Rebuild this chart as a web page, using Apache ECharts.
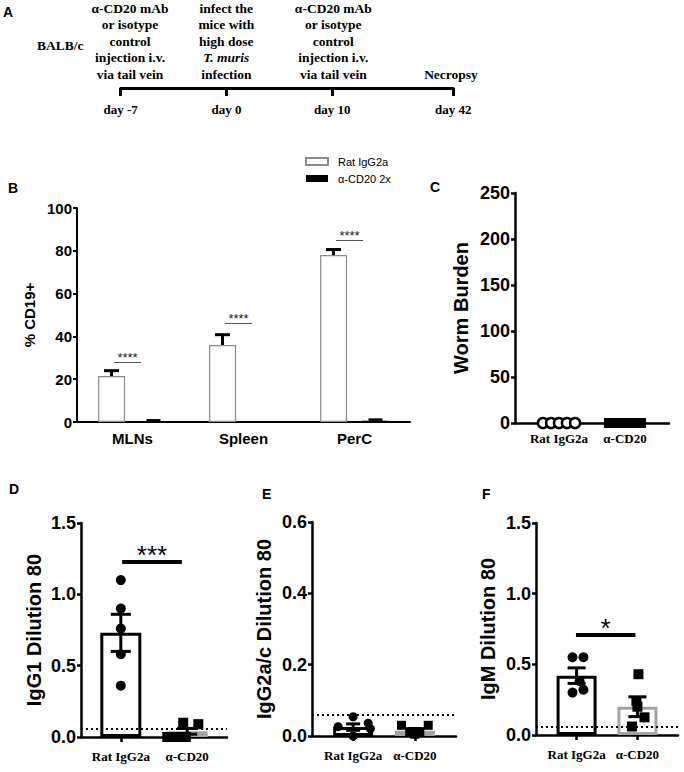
<!DOCTYPE html>
<html lang="en">
<head>
<meta charset="utf-8">
<title>B cell depletion with anti-CD20</title>
<script src="https://cdn.jsdelivr.net/npm/echarts@6/dist/echarts.min.js"></script>
<style>
    html, body { margin: 0; padding: 0; background: #fff; }
    #chart { width: 684px; height: 772px; }
</style>
</head>
<body>
<div id="chart"></div>
<script>
// ---- panel A: timeline ----
var timelineDays = ['day -7', 'day 0', 'day 10', 'day 42'];
var timelineNotes = [
    'α-CD20 mAb\nor isotype\ncontrol\ninjection i.v.\nvia tail vein',
    'infect the\nmice with\nhigh dose\n{it|T. muris}\ninfection',
    'α-CD20 mAb\nor isotype\ncontrol\ninjection i.v.\nvia tail vein',
    'Necropsy'
];

// ---- panel B: % CD19+ ----
var tissues = ['MLNs', 'Spleen', 'PerC'];
var ratCD19 = [21.5, 36, 78];
var ratCD19Sem = [2.5, 4.8, 2.6];
var cd20CD19 = [0.4, 0, 0.6];
var cd20CD19Sem = [0.4, 0, 0.5];
var cd19SigY = [28, 46, 85];
var cd19SigText = ['****', '****', '****'];

// ---- panels C-F ----
var groups = ['Rat IgG2a', 'α-CD20'];

var wormRat = [0, 0, 0, 0, 0];
var wormCD20 = [0, 0, 0, 0, 0];
var wormJitter = [-0.73, -0.36, 0, 0.36, 0.73];

var igg1Rat = [1.10, 0.90, 0.76, 0.58, 0.36];
var igg1RatJitter = [0, 0, 0, 0, 0];
var igg1CD20 = [0.0, 0.0, 0.10, 0.0, 0.09];
var igg1CD20Jitter = [-1.5, -0.8, -0.3, -0.1, 0.84];
var igg1Mean = [0.73, 0.04];
var igg1Sem = [0.13, 0.02];

var igg2Rat = [0.026, 0.054, 0.036, 0.02, 0.0];
var igg2RatJitter = [-0.73, 0, 0.73, 0.84, 0];
var igg2CD20 = [0.03, 0.03, 0.005, 0.012, 0.012];
var igg2CD20Jitter = [-0.65, 0.65, 0, -0.25, 0.24];
var igg2Mean = [0.025, 0.015];
var igg2Sem = [0.009, 0.006];

var igmRat = [0.55, 0.55, 0.38, 0.32, 0.30];
var igmRatJitter = [-0.2, 0.34, 0.15, 0.34, -0.2];
var igmCD20 = [0.43, 0.24, 0.20, 0.125, 0.06];
var igmCD20Jitter = [0.05, -0.05, 0, 0.35, -0.27];
var igmMean = [0.42, 0.20];
var igmSem = [0.055, 0.07];

var cutoff = 0.06;

var SANS = 'Liberation Sans';
var SERIF = 'Liberation Serif';
var GREY = '#a3a3a3';

var chart = echarts.init(document.getElementById('chart'), null, { renderer: 'svg' });

var option = {
    animation: false,
    backgroundColor: '#fff',
    textStyle: { fontFamily: SANS, color: '#000' },
    title: [],
    grid: [],
    xAxis: [],
    yAxis: [],
    series: [],
    graphic: []
};

// panel letters
[['A', 3, 5], ['B', 8, 181], ['C', 430, 180], ['D', 9, 482], ['E', 262, 487], ['F', 482, 487]].forEach(function (t) {
    option.title.push({
        text: t[0], left: t[1], top: t[2], padding: 0,
        textStyle: { fontFamily: SANS, fontWeight: 'bold', fontSize: 14, color: '#000' }
    });
});

function addGrid(g) {
    option.grid.push(g);
    return option.grid.length - 1;
}

// category axis made of evenly spaced slots; only some slots carry a label/tick
function slotAxis(grid, n, labels, o) {
    var names = [];
    for (var i = 0; i < n; i++) names.push(String(i));
    return {
        gridIndex: grid, type: 'category', data: names, boundaryGap: false,
        position: o.position || 'bottom',
        axisLine: { show: o.line !== false, lineStyle: { color: '#000', width: o.lineWidth || 2.5 } },
        axisTick: {
            show: !!o.ticks, length: o.tickLen || 5,
            interval: function (idx) { return labels[idx] !== undefined; },
            lineStyle: { color: '#000', width: o.lineWidth || 2.5 }
        },
        axisLabel: {
            interval: 0, margin: o.margin, color: '#000',
            fontFamily: o.font || SERIF, fontSize: o.fontSize || 13, fontWeight: 'bold',
            lineHeight: o.lineHeight, rich: o.rich,
            formatter: function (v) { return labels[+v] || ''; }
        },
        splitLine: { show: false }
    };
}

function hiddenX(grid, n) {
    return { gridIndex: grid, type: 'value', min: 0, max: n - 1, show: false };
}

function valueY(grid, o) {
    return {
        gridIndex: grid, type: 'value', min: 0, max: o.max, interval: o.step,
        name: o.name, nameLocation: 'middle', nameGap: o.gap,
        nameTextStyle: { fontFamily: SANS, fontWeight: 'bold', fontSize: o.nameSize, color: '#000' },
        axisLine: { show: true, lineStyle: { color: '#000', width: o.lw } },
        axisTick: { show: true, length: 4, lineStyle: { color: '#000', width: o.lw } },
        axisLabel: {
            color: '#000', fontFamily: SANS, fontWeight: 'bold', fontSize: o.size, margin: 5,
            formatter: function (v) { return v.toFixed(o.dec); }
        },
        splitLine: { show: false }
    };
}

function errorBars(offsetPx, capHalf, upOnly, width) {
    return function (params, api) {
        var x = api.value(0), m = api.value(1), s = api.value(2);
        var hi = api.coord([x, m + s]);
        var lo = api.coord([x, upOnly ? m : m - s]);
        var cx = hi[0] + offsetPx;
        var st = { stroke: '#000', lineWidth: width };
        var kids = [
            { type: 'line', shape: { x1: cx, y1: hi[1], x2: cx, y2: lo[1] }, style: st },
            { type: 'line', shape: { x1: cx - capHalf, y1: hi[1], x2: cx + capHalf, y2: hi[1] }, style: st }
        ];
        if (!upOnly) {
            kids.push({ type: 'line', shape: { x1: cx - capHalf, y1: lo[1], x2: cx + capHalf, y2: lo[1] }, style: st });
        }
        return { type: 'group', children: kids };
    };
}

// ---------------- panel A ----------------
var gA = addGrid({ left: 120.7, top: 87, width: 332.6, height: 1 });
var dayLabels = {};
[0, 7, 14, 22].forEach(function (s, i) { dayLabels[s] = timelineDays[i]; });
option.xAxis.push(slotAxis(gA, 23, dayLabels, {
    ticks: true, tickLen: 8, lineWidth: 3, margin: 15, font: SERIF, fontSize: 13
}));
option.yAxis.push({ gridIndex: gA, type: 'value', min: 0, max: 1, show: false });

var gA2 = addGrid({ left: 130, top: 84, width: 321, height: 1 });
var noteLabels = {};
[0, 9, 19, 30].forEach(function (s, i) { noteLabels[s] = timelineNotes[i]; });
option.xAxis.push(slotAxis(gA2, 31, noteLabels, {
    position: 'top', line: false, ticks: false, margin: 2, font: SERIF, fontSize: 13.5, lineHeight: 16.5,
    rich: { it: { fontFamily: SERIF, fontSize: 13.5, fontWeight: 'bold', fontStyle: 'italic', lineHeight: 16.5 } }
}));
option.yAxis.push({ gridIndex: gA2, type: 'value', min: 0, max: 1, show: false });

option.graphic.push({
    type: 'text', left: 37, top: 38,
    style: { text: 'BALB/c', font: 'bold 13.5px "Liberation Serif"', fill: '#000' }
});

// ---------------- panel B ----------------
var gB = addGrid({ left: 77, top: 208, width: 333, height: 214 });
var xB = option.xAxis.push({
    gridIndex: gB, type: 'category', data: tissues,
    axisLine: { lineStyle: { color: '#000', width: 2 } },
    axisTick: { alignWithLabel: true, length: 5, lineStyle: { color: '#000', width: 2 } },
    axisLabel: { color: '#000', fontFamily: SANS, fontWeight: 'bold', fontSize: 15, margin: 9 }
}) - 1;
var xBv = option.xAxis.push({ gridIndex: gB, type: 'value', min: 0, max: 3, show: false }) - 1;
var yB = option.yAxis.push(valueY(gB, {
    max: 100, step: 20, name: '% CD19+', gap: 40, nameSize: 15, size: 15, dec: 0, lw: 2
})) - 1;

option.series.push({
    name: 'Rat IgG2a', type: 'bar', xAxisIndex: xB, yAxisIndex: yB,
    data: ratCD19, barWidth: 27, barGap: '55%',
    itemStyle: { color: '#fff', borderColor: '#8c8c8c', borderWidth: 1.2 }
});
option.series.push({
    name: 'α-CD20 2x', type: 'bar', xAxisIndex: xB, yAxisIndex: yB,
    data: cd20CD19, barWidth: 27,
    itemStyle: { color: '#000' }
});
option.series.push({
    type: 'custom', xAxisIndex: xBv, yAxisIndex: yB, z: 5,
    renderItem: errorBars(-21, 7.5, true, 3),
    encode: { x: 0, y: 1 },
    data: tissues.map(function (t, i) { return [i + 0.5, ratCD19[i], ratCD19Sem[i]]; })
});
option.series.push({
    type: 'custom', xAxisIndex: xBv, yAxisIndex: yB, z: 5,
    renderItem: errorBars(21, 7, true, 2.5),
    encode: { x: 0, y: 1 },
    data: tissues.map(function (t, i) { return [i + 0.5, cd20CD19[i], cd20CD19Sem[i]]; })
        .filter(function (d) { return d[2] > 0; })
});
option.series.push({
    type: 'line', xAxisIndex: xBv, yAxisIndex: yB, data: [], silent: true,
    markLine: {
        silent: true, symbol: ['none', 'none'],
        lineStyle: { color: '#555', width: 1, type: 'solid' },
        label: {
            position: 'insideMiddleTop', distance: 0, color: '#222', fontFamily: SANS, fontSize: 13,
            lineHeight: 10,
            formatter: function (p) { return p.data.txt; }
        },
        data: tissues.map(function (t, i) {
            return [
                { coord: [i + 0.5 - 0.167, cd19SigY[i]], txt: cd19SigText[i] },
                { coord: [i + 0.5 + 0.077, cd19SigY[i]] }
            ];
        })
    }
});

option.legend = {
    orient: 'vertical', left: 305, top: 156, padding: 0,
    itemWidth: 22, itemHeight: 7, itemGap: 6, icon: 'rect', selectedMode: false,
    textStyle: { fontFamily: SANS, fontSize: 11, color: '#000', padding: [0, 0, 0, 5] },
    data: ['Rat IgG2a', 'α-CD20 2x']
};

// ---------------- panel C ----------------
var gC = addGrid({ left: 515, top: 193, width: 154, height: 230 });
var cLabels = { 2: groups[0], 5: groups[1] };
option.xAxis.push(slotAxis(gC, 8, cLabels, { ticks: false, margin: 9, lineWidth: 2.5 }));
var xCv = option.xAxis.push(hiddenX(gC, 8)) - 1;
var yC = option.yAxis.push(valueY(gC, {
    max: 250, step: 50, name: 'Worm Burden', gap: 44, nameSize: 20, size: 18, dec: 0, lw: 2.5
})) - 1;
option.series.push({
    type: 'scatter', xAxisIndex: xCv, yAxisIndex: yC, clip: false, z: 4,
    symbol: 'circle', symbolSize: 10,
    itemStyle: { color: '#fff', borderColor: '#000', borderWidth: 2.5, opacity: 1 },
    data: wormRat.map(function (v, i) { return [2 + wormJitter[i], v]; })
});
option.series.push({
    type: 'scatter', xAxisIndex: xCv, yAxisIndex: yC, clip: false, z: 4,
    symbol: 'rect', symbolSize: 10,
    itemStyle: { color: '#000', opacity: 1 },
    data: wormCD20.map(function (v, i) { return [5 + wormJitter[i], v]; })
});

// ---------------- panels D, E, F ----------------
function dotPanel(p) {
    var g = addGrid({ left: p.left, top: p.top, width: p.width, height: p.height });
    var labels = {};
    labels[p.at[0]] = groups[0];
    labels[p.at[1]] = groups[1];
    var xc = option.xAxis.push(slotAxis(g, p.slots, labels, { ticks: true, margin: 13, lineWidth: 2.5 })) - 1;
    var xv = option.xAxis.push(hiddenX(g, p.slots)) - 1;
    var y = option.yAxis.push(valueY(g, {
        max: p.max, step: p.step, name: p.name, gap: p.gap, nameSize: 20, size: 18, dec: 1, lw: 2.5
    })) - 1;

    var barData = [];
    for (var i = 0; i < p.slots; i++) barData.push('-');
    barData[p.at[0]] = { value: p.mean[0], itemStyle: { borderColor: '#000' } };
    barData[p.at[1]] = { value: p.mean[1], itemStyle: { borderColor: GREY } };
    option.series.push({
        type: 'bar', xAxisIndex: xc, yAxisIndex: y, data: barData, barWidth: p.barW,
        itemStyle: { color: '#fff', borderWidth: 3 }
    });

    var marks = [{
        yAxis: cutoff,
        lineStyle: { color: '#000', width: 2, type: [2, 3] },
        label: { show: false }
    }];
    if (p.sig) {
        marks.push([
            { coord: [p.sig.from, p.sig.y], txt: p.sig.text },
            { coord: [p.sig.to, p.sig.y] }
        ]);
    }
    option.series.push({
        type: 'scatter', xAxisIndex: xv, yAxisIndex: y, clip: false, z: 4,
        symbol: 'circle', symbolSize: p.dot,
        itemStyle: { color: '#000', opacity: 1 },
        data: p.rat.map(function (v, i) { return [p.at[0] + p.ratJ[i], v]; }),
        markLine: {
            silent: true, symbol: ['none', 'none'],
            lineStyle: { color: '#000', width: 4, type: 'solid' },
            label: {
                position: 'insideMiddleTop', distance: 0, color: '#000', fontFamily: SANS,
                fontSize: p.sig ? p.sig.size : 12, lineHeight: 14,
                formatter: function (q) { return q.data.txt || ''; }
            },
            data: marks
        }
    });
    option.series.push({
        type: 'scatter', xAxisIndex: xv, yAxisIndex: y, clip: false, z: 4,
        symbol: 'rect', symbolSize: p.dot,
        itemStyle: { color: '#000', opacity: 1 },
        data: p.cd20.map(function (v, i) { return [p.at[1] + p.cdJ[i], v]; })
    });
    option.series.push({
        type: 'custom', xAxisIndex: xv, yAxisIndex: y, z: 5,
        renderItem: errorBars(0, p.cap, false, 3),
        encode: { x: 0, y: 1 },
        data: [[p.at[0], p.mean[0], p.sem[0]], [p.at[1], p.mean[1], p.sem[1]]]
    });
}

dotPanel({
    left: 81, top: 523, width: 146, height: 214, slots: 12, at: [3, 8],
    max: 1.5, step: 0.5, name: 'IgG1 Dilution 80', gap: 37,
    mean: igg1Mean, sem: igg1Sem, rat: igg1Rat, ratJ: igg1RatJitter, cd20: igg1CD20, cdJ: igg1CD20Jitter,
    barW: 41, cap: 10, dot: 10,
    sig: { from: 3.1, to: 7.6, y: 1.23, text: '***', size: 26 }
});
dotPanel({
    left: 312, top: 522, width: 144, height: 214, slots: 8, at: [2, 5],
    max: 0.6, step: 0.2, name: 'IgG2a/c Dilution 80', gap: 38,
    mean: igg2Mean, sem: igg2Sem, rat: igg2Rat, ratJ: igg2RatJitter, cd20: igg2CD20, cdJ: igg2CD20Jitter,
    barW: 40, cap: 7, dot: 9
});
dotPanel({
    left: 536, top: 523, width: 142, height: 212, slots: 8, at: [2, 5],
    max: 1.5, step: 0.5, name: 'IgM Dilution 80', gap: 38,
    mean: igmMean, sem: igmSem, rat: igmRat, ratJ: igmRatJitter, cd20: igmCD20, cdJ: igmCD20Jitter,
    barW: 40, cap: 9, dot: 10,
    sig: { from: 1.97, to: 4.9, y: 0.71, text: '*', size: 26 }
});

chart.setOption(option);
</script>
</body>
</html>
